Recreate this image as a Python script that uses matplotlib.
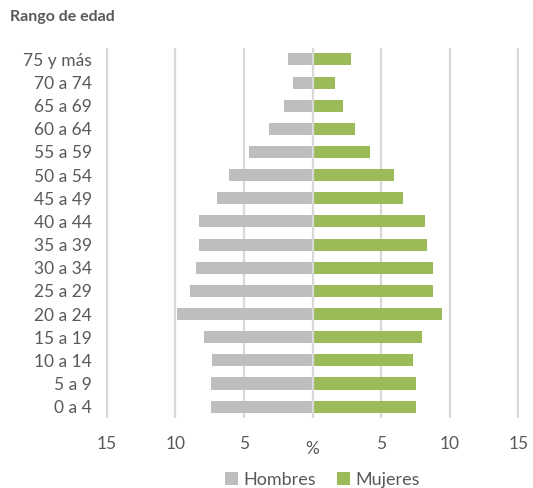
import numpy as np
import matplotlib.pyplot as plt

# age groups, bottom to top
grupos = ["0 a 4", "5 a 9", "10 a 14", "15 a 19", "20 a 24", "25 a 29", "30 a 34",
          "35 a 39", "40 a 44", "45 a 49", "50 a 54", "55 a 59", "60 a 64",
          "65 a 69", "70 a 74", "75 y más"]

# percent of population
hombres = [7.4, 7.4, 7.3, 7.9, 9.9, 8.9, 8.5, 8.3, 8.3, 7.0, 6.1, 4.6, 3.2, 2.1, 1.4, 1.8]
mujeres = [7.5, 7.5, 7.3, 8.0, 9.4, 8.8, 8.8, 8.3, 8.2, 6.6, 5.9, 4.2, 3.1, 2.2, 1.6, 2.8]

ticks = [-15, -10, -5, 0, 5, 10, 15]
tick_labels = ["15", "10", "5", "%", "5", "10", "15"]

gris = "#BDBEC0"
verde = "#9BBB59"
texto = "#595959"

plt.rcParams['font.family'] = ['Lato', 'DejaVu Sans']

fig = plt.figure(figsize=(5.33, 4.88), dpi=100)
ax = fig.add_axes([0.199, 0.143, 0.775, 0.759])

y = np.arange(len(grupos))
ax.barh(y, -np.array(hombres), height=0.52, color=gris, label="Hombres", zorder=2)
ax.barh(y, mujeres, height=0.52, color=verde, label="Mujeres", zorder=2)

for t in ticks:
    ax.axvline(t, color="#D9D9D9", lw=1.6, zorder=1 if t != 0 else 3)

ax.set_xlim(-15.05, 15.05)
ax.set_ylim(-0.5, len(grupos) - 0.5)
ax.set_xticks(ticks)
ax.set_xticklabels(tick_labels)
ax.set_yticks(y)
ax.set_yticklabels(grupos)
ax.tick_params(axis="both", length=0, labelsize=12.5, colors=texto)
ax.tick_params(axis="x", pad=13)
ax.tick_params(axis="y", pad=10)
for lab in ax.get_xticklabels():
    if lab.get_text() == "%":
        lab.set_y(-0.012)
for s in ax.spines.values():
    s.set_visible(False)

fig.text(0.019, 0.965, "Rango de edad", fontsize=11.5, fontweight="bold", color=texto, va="center")

leg = fig.legend(loc="center", bbox_to_anchor=(0.605, 0.017), ncol=2, frameon=False,
                 fontsize=13, handlelength=0.7, handleheight=0.7, handletextpad=0.3,
                 columnspacing=1.2, labelcolor=texto)

fig.savefig("out.png", dpi=100)
